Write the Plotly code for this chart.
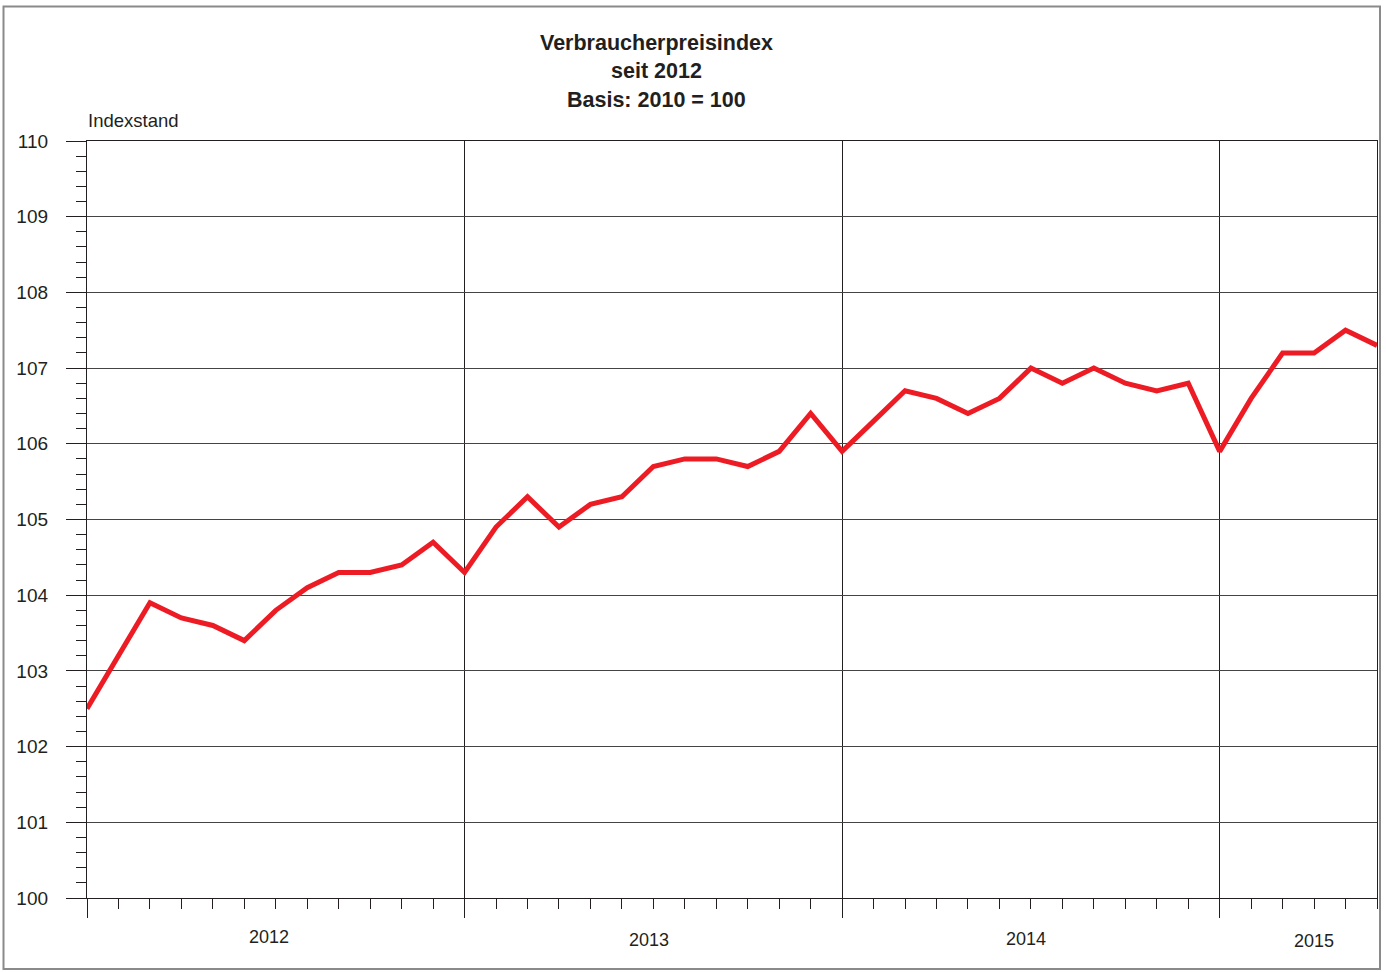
import plotly.graph_objects as go

years = ["2012", "2013", "2014", "2015"]
year_label_offsets = [5.8, 5.85, 5.85, 3.0]
year_label_y = [937, 940, 939, 941]
values = [
    102.5, 103.2, 103.9, 103.7, 103.6, 103.4, 103.8, 104.1, 104.3, 104.3, 104.4, 104.7,
    104.3, 104.9, 105.3, 104.9, 105.2, 105.3, 105.7, 105.8, 105.8, 105.7, 105.9, 106.4,
    105.9, 106.3, 106.7, 106.6, 106.4, 106.6, 107.0, 106.8, 107.0, 106.8, 106.7, 106.8,
    105.9, 106.6, 107.2, 107.2, 107.5, 107.3,
]
months = list(range(len(values)))

W, H = 1386, 972
L, R, T, B = 87, 9, 141, 74
pw, ph = W - L - R, H - T - B

fig = go.Figure()
fig.add_trace(go.Scatter(x=months, y=values, mode="lines",
                         line=dict(color="#ed1c24", width=5), hoverinfo="skip"))

FONT = "Liberation Sans, Arial, sans-serif"
INK = "#231f20"
fig.update_layout(
    width=W, height=H,
    margin=dict(l=L, r=R, t=T, b=B),
    paper_bgcolor="white", plot_bgcolor="white",
    showlegend=False,
    font=dict(family=FONT, size=18, color=INK),
    xaxis=dict(
        range=[0, len(values) - 1],
        tickmode="array", tickvals=[12 * i for i in range(len(years))],
        showticklabels=False, ticks="outside", ticklen=19, tickcolor=INK, tickwidth=1.3,
        showgrid=True, gridcolor=INK, gridwidth=1.3,
        showline=True, linecolor=INK, linewidth=1.3, mirror=True,
        zeroline=False,
        minor=dict(dtick=1, tick0=0, ticks="outside", ticklen=10, tickcolor=INK,
                   tickwidth=1.3, showgrid=False),
    ),
    yaxis=dict(
        range=[100, 110], dtick=1, tick0=100,
        ticks="outside", ticklen=20, tickcolor=INK, tickwidth=1.3,
        ticklabelstandoff=14,
        showgrid=True, gridcolor="#444444", gridwidth=1.3,
        showline=True, linecolor=INK, linewidth=1.3, mirror=True,
        zeroline=False,
        tickfont=dict(size=19),
        minor=dict(dtick=0.2, ticks="outside", ticklen=10, tickcolor=INK,
                   tickwidth=1.3, showgrid=False),
    ),
)

def px_x(p):
    return (p - L) / pw

def px_y(p):
    return (H - B - p) / ph

annotations = []
titles = ["Verbraucherpreisindex", "seit 2012", "Basis: 2010 = 100"]
for i, t in enumerate(titles):
    annotations.append(dict(text="<b>%s</b>" % t, xref="paper", yref="paper",
                            x=px_x(656), y=px_y(43 + 28.5 * i), showarrow=False,
                            xanchor="center", yanchor="middle",
                            font=dict(size=21.5, family=FONT)))
annotations.append(dict(text="Indexstand", xref="paper", yref="paper",
                        x=px_x(86), y=px_y(121), showarrow=False,
                        xanchor="left", yanchor="middle", font=dict(size=18.5, family=FONT)))
for i, yr in enumerate(years):
    annotations.append(dict(text=yr, xref="x", yref="paper",
                            x=12 * i + year_label_offsets[i], y=px_y(year_label_y[i]),
                            showarrow=False, xanchor="center", yanchor="middle",
                            font=dict(size=18, family=FONT)))
fig.update_layout(annotations=annotations)

fig.add_shape(type="rect", xref="paper", yref="paper",
              x0=px_x(3.5), x1=px_x(1380), y0=px_y(969), y1=px_y(6.5),
              line=dict(color="#8a8a8a", width=2), fillcolor="rgba(0,0,0,0)", layer="above")

fig.write_html("out.html", config={"displayModeBar": False},
               post_script="document.body.style.margin='0';document.body.style.padding='0';")
